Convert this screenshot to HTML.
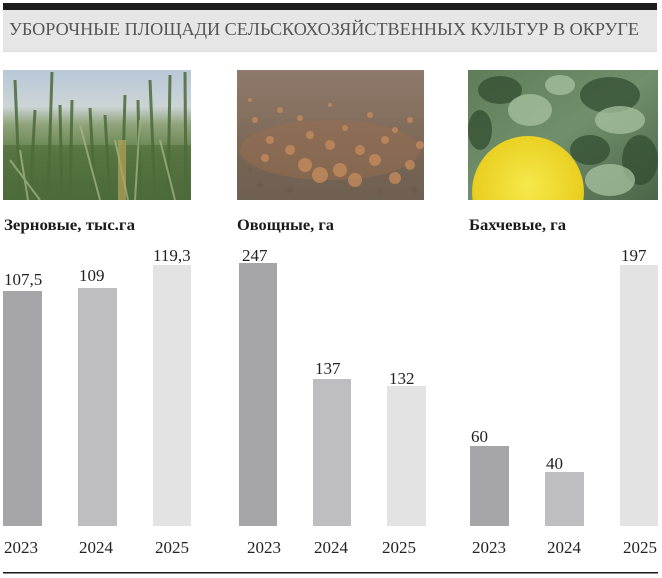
<!DOCTYPE html>
<html><head><meta charset="utf-8"><style>
html,body{margin:0;padding:0;background:#fff;}
svg{display:block;}
text{font-family:"Liberation Serif",serif;}
</style></head><body>
<svg width="662" height="578" viewBox="0 0 662 578" xmlns="http://www.w3.org/2000/svg">
<defs>
<linearGradient id="wsky" x1="0" y1="0" x2="0" y2="1">
<stop offset="0" stop-color="#b9c8d8"/><stop offset="0.28" stop-color="#cbd4d6"/><stop offset="0.42" stop-color="#8fa37a"/><stop offset="0.65" stop-color="#62804a"/><stop offset="1" stop-color="#4a6638"/>
</linearGradient>
<linearGradient id="onion" x1="0" y1="0" x2="0" y2="1">
<stop offset="0" stop-color="#8e7a6c"/><stop offset="0.35" stop-color="#86705f"/><stop offset="0.7" stop-color="#766453"/><stop offset="1" stop-color="#6e6053"/>
</linearGradient>
<linearGradient id="leaf" x1="0" y1="0" x2="1" y2="1">
<stop offset="0" stop-color="#5f7d58"/><stop offset="0.5" stop-color="#718f6c"/><stop offset="1" stop-color="#4b6548"/>
</linearGradient>
<radialGradient id="mel" cx="0.5" cy="0.45" r="0.6">
<stop offset="0" stop-color="#f6e84a"/><stop offset="0.8" stop-color="#e9cf20"/><stop offset="1" stop-color="#c9a812"/>
</radialGradient>
<clipPath id="c1"><rect x="3" y="70" width="188" height="130"/></clipPath>
<clipPath id="c2"><rect x="237" y="70" width="187" height="130"/></clipPath>
<clipPath id="c3"><rect x="468" y="70" width="190" height="130"/></clipPath>
</defs>

<!-- header -->
<rect x="3" y="3" width="654" height="7" fill="#1c1c1c"/>
<rect x="3" y="10" width="654" height="42" fill="#e6e6e6"/>
<rect x="3" y="51" width="654" height="1" fill="#dcdcdc"/>
<text x="9" y="35" font-size="18" fill="#555" textLength="630" lengthAdjust="spacingAndGlyphs">УБОРОЧНЫЕ ПЛОЩАДИ СЕЛЬСКОХОЗЯЙСТВЕННЫХ  КУЛЬТУР В ОКРУГЕ</text>

<!-- wheat image -->
<g clip-path="url(#c1)">
<rect x="3" y="70" width="188" height="130" fill="url(#wsky)"/>
<rect x="3" y="145" width="188" height="55" fill="#4e6c3c" opacity="0.6"/>
<g stroke="#4d6a3a" stroke-width="3" opacity="0.85">
<line x1="15" y1="80" x2="20" y2="200"/><line x1="52" y1="72" x2="48" y2="200"/>
<line x1="72" y1="100" x2="70" y2="200"/><line x1="90" y1="108" x2="95" y2="200"/>
<line x1="125" y1="95" x2="122" y2="200"/><line x1="150" y1="80" x2="155" y2="200"/>
<line x1="170" y1="75" x2="168" y2="200"/><line x1="185" y1="72" x2="186" y2="200"/>
<line x1="35" y1="110" x2="30" y2="200"/><line x1="105" y1="115" x2="110" y2="200"/>
<line x1="60" y1="105" x2="62" y2="200"/><line x1="138" y1="100" x2="140" y2="200"/>
</g>
<g stroke="#a9b98a" stroke-width="2" opacity="0.7">
<line x1="80" y1="125" x2="100" y2="200"/><line x1="115" y1="140" x2="128" y2="200"/>
<line x1="10" y1="160" x2="40" y2="200"/><line x1="140" y1="120" x2="135" y2="200"/>
<line x1="20" y1="150" x2="28" y2="200"/><line x1="160" y1="140" x2="175" y2="200"/>
</g>
<rect x="118" y="140" width="8" height="60" fill="#b5a55a" opacity="0.7"/>
</g>

<!-- onion image -->
<g clip-path="url(#c2)">
<rect x="237" y="70" width="187" height="130" fill="url(#onion)"/>
<ellipse cx="330" cy="150" rx="90" ry="30" fill="#9a6e50" opacity="0.5"/>
<g fill="#c48a5c" opacity="0.8">
<circle cx="305" cy="165" r="7"/><circle cx="320" cy="175" r="8"/><circle cx="340" cy="170" r="7"/>
<circle cx="355" cy="180" r="7"/><circle cx="375" cy="160" r="6"/><circle cx="395" cy="178" r="6"/>
<circle cx="410" cy="165" r="5"/><circle cx="290" cy="150" r="5"/><circle cx="330" cy="145" r="5"/>
<circle cx="360" cy="150" r="5"/><circle cx="385" cy="140" r="4"/><circle cx="270" cy="140" r="4"/>
<circle cx="310" cy="135" r="4"/><circle cx="345" cy="128" r="3"/><circle cx="395" cy="130" r="3"/>
<circle cx="255" cy="120" r="3"/><circle cx="280" cy="110" r="3"/><circle cx="300" cy="118" r="3"/>
<circle cx="370" cy="115" r="3"/><circle cx="410" cy="120" r="3"/><circle cx="265" cy="158" r="4"/>
<circle cx="420" cy="145" r="4"/><circle cx="250" cy="100" r="2"/><circle cx="330" cy="105" r="2"/>
</g>
<g fill="#6a5a4c" opacity="0.6">
<circle cx="260" cy="185" r="3"/><circle cx="290" cy="190" r="3"/><circle cx="380" cy="192" r="3"/>
<circle cx="250" cy="170" r="2"/><circle cx="415" cy="190" r="3"/>
</g>
</g>

<!-- melon image -->
<g clip-path="url(#c3)">
<rect x="468" y="70" width="190" height="130" fill="url(#leaf)"/>
<g fill="#2f4a2e" opacity="0.7">
<ellipse cx="500" cy="90" rx="22" ry="14"/><ellipse cx="610" cy="95" rx="30" ry="18"/>
<ellipse cx="640" cy="160" rx="18" ry="25"/><ellipse cx="590" cy="150" rx="20" ry="15"/>
<ellipse cx="480" cy="130" rx="12" ry="20"/>
</g>
<g fill="#a8c2a0" opacity="0.75">
<ellipse cx="530" cy="110" rx="22" ry="16"/><ellipse cx="620" cy="120" rx="25" ry="14"/>
<ellipse cx="610" cy="180" rx="25" ry="16"/><ellipse cx="560" cy="85" rx="15" ry="10"/>
</g>
<ellipse cx="528" cy="192" rx="56" ry="56" fill="url(#mel)"/>
</g>

<!-- category labels -->
<text x="4" y="230" font-size="16" font-weight="bold" fill="#1a1a1a" textLength="131" lengthAdjust="spacingAndGlyphs">Зерновые, тыс.га</text>
<text x="237" y="230" font-size="16" font-weight="bold" fill="#1a1a1a" textLength="97" lengthAdjust="spacingAndGlyphs">Овощные, га</text>
<text x="469" y="230" font-size="16" font-weight="bold" fill="#1a1a1a" textLength="97" lengthAdjust="spacingAndGlyphs">Бахчевые, га</text>

<!-- bars -->
<rect x="3" y="291" width="39" height="235" fill="#a6a6a8"/>
<rect x="78" y="288" width="39" height="238" fill="#bebec0"/>
<rect x="153" y="265" width="38" height="261" fill="#e3e3e3"/>
<rect x="239" y="263" width="38" height="263" fill="#a6a6a8"/>
<rect x="313" y="379" width="38" height="147" fill="#bebec0"/>
<rect x="387" y="386" width="39" height="140" fill="#e3e3e3"/>
<rect x="470" y="446" width="39" height="80" fill="#a6a6a8"/>
<rect x="545" y="472" width="39" height="54" fill="#bebec0"/>
<rect x="620" y="265" width="38" height="261" fill="#e3e3e3"/>

<!-- value labels -->
<g font-size="17" fill="#222">
<text x="4" y="285">107,5</text>
<text x="79" y="281">109</text>
<text x="153" y="261">119,3</text>
<text x="242" y="261">247</text>
<text x="315" y="374">137</text>
<text x="389" y="384">132</text>
<text x="471" y="442">60</text>
<text x="546" y="469">40</text>
<text x="621" y="261">197</text>
</g>

<!-- years -->
<g font-size="17" fill="#222">
<text x="4" y="553">2023</text>
<text x="79" y="553">2024</text>
<text x="155" y="553">2025</text>
<text x="247" y="553">2023</text>
<text x="314" y="553">2024</text>
<text x="382" y="553">2025</text>
<text x="472" y="553">2023</text>
<text x="547" y="553">2024</text>
<text x="623" y="553">2025</text>
</g>

<rect x="3" y="572" width="655" height="1.5" fill="#1a1a1a"/>
</svg>
</body></html>
